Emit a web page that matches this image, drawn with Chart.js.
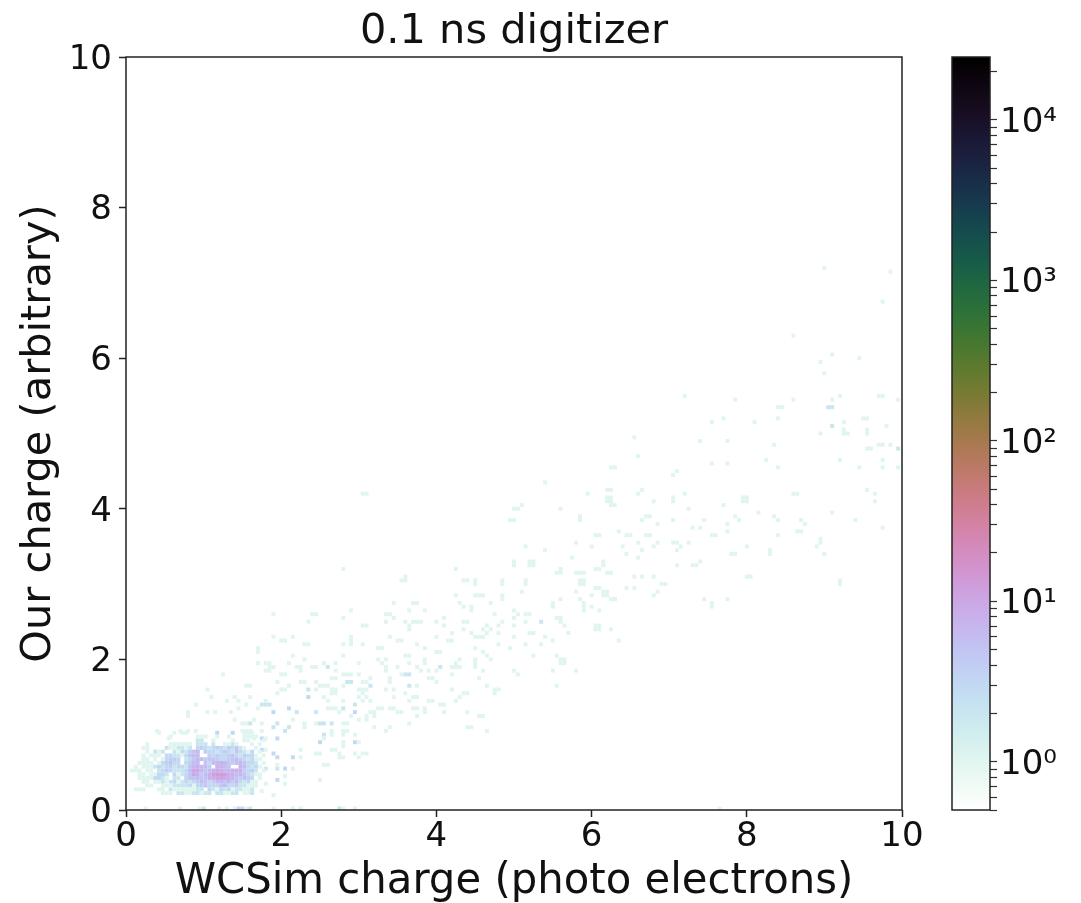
<!DOCTYPE html>
<html>
<head>
<meta charset="utf-8">
<title>0.1 ns digitizer</title>
<script src="https://cdn.jsdelivr.net/npm/chart.js@4/dist/chart.umd.js"></script>
<style>
  html, body { margin: 0; padding: 0; background: #fff; }
  canvas { position: absolute; top: 0; filter: blur(0.5px); }
  #plots { left: 0; }
  #barra { left: 940px; }
</style>
</head>
<body>
<canvas id="plots" width="1081" height="903"></canvas>
<canvas id="barra" width="141" height="903"></canvas>
<script>
// 2d histogram, bins are 0.05 wide
const binSize = 0.05
const axisTicks = [0, 2, 4, 6, 8, 10]

// dense blob near (1, 0.5): counts per bin, first row is y bin 20, last is y bin 4, x bins from 0
const coreTopRow = 20
const coreCounts = [
  [0,0,0,0,0,0,0,0,1,0,0,0,1,0,1,1,0,0,0,0,0,0,0,3,0,0,0,3,0,0,1,1,1,0,0,0],
  [0,0,0,0,0,0,0,0,0,0,0,1,0,0,0,0,0,0,1,1,1,0,0,1,0,0,1,0,0,0,1,1,1,1,0,0],
  [0,0,0,0,0,0,0,0,0,0,0,0,0,0,0,0,0,0,2,2,0,0,1,0,0,0,0,1,0,0,1,1,0,0,0,1],
  [0,0,0,0,0,1,0,0,0,0,0,1,1,1,1,1,1,0,2,2,2,0,2,0,0,1,1,2,1,0,0,0,1,0,1,0],
  [0,0,0,0,1,1,0,0,0,0,2,1,1,2,2,1,2,0,3,4,3,2,3,4,3,2,4,3,5,2,1,0,0,1,0,0],
  [0,0,0,0,0,1,0,2,1,2,0,0,2,1,3,2,4,5,7,0,4,3,3,2,3,4,3,2,5,3,2,1,3,0,1,0],
  [0,0,0,0,1,0,1,1,1,0,3,3,2,2,1,3,5,6,6,0,0,4,3,4,3,3,4,5,3,2,4,3,3,1,0,1],
  [0,0,0,0,1,1,0,1,0,1,3,4,4,3,0,2,3,5,7,6,4,5,5,4,3,3,4,5,6,4,3,2,3,1,1,0],
  [0,0,0,1,1,1,1,0,1,3,4,5,3,3,0,3,4,6,6,0,5,3,6,7,8,7,5,4,6,7,5,3,3,2,0,1],
  [0,0,1,0,1,1,1,2,3,2,3,4,2,3,3,2,5,7,8,6,6,4,0,7,7,6,5,0,0,7,6,3,2,3,1,0],
  [0,1,1,1,0,1,1,0,2,3,4,3,2,2,2,3,6,10,11,7,5,6,8,9,8,6,7,8,8,8,4,3,4,2,0,1],
  [0,0,0,1,1,0,1,1,3,3,2,0,3,1,2,3,5,10,8,4,6,8,12,14,13,12,8,8,6,7,5,3,2,1,1,0],
  [0,0,0,1,1,1,1,3,3,2,1,0,2,2,0,3,5,5,6,5,5,8,9,10,10,9,8,7,5,4,6,4,3,0,1,0],
  [0,0,0,0,1,1,0,1,1,2,1,2,3,1,2,3,2,3,4,6,5,3,4,6,6,5,7,4,6,3,2,3,1,1,0,0],
  [0,0,0,0,0,1,1,0,0,1,1,1,2,2,2,2,3,1,3,4,5,3,3,3,5,6,3,3,4,2,2,1,1,1,0,0],
  [0,0,1,1,1,0,0,0,1,1,0,2,1,1,1,1,1,1,2,2,0,3,2,1,3,2,3,1,2,2,1,1,2,0,0,0],
  [0,0,0,0,0,0,0,0,0,1,1,1,0,2,2,1,1,2,2,1,2,2,0,2,2,1,1,2,2,0,1,1,2,0,0,0]
]

// cells with one hit: [wcsim, our]
const singleCells = [
  [9,7.2],[9.85,7.15],[9.75,6.75],[8.6,6.3],[9.1,6.05],[8.95,5.95],[9.45,6],[9,5.8],[7.2,5.5],[7.85,5.45],
  [8.6,5.45],[9.1,5.45],[9.2,5.5],[9.7,5.5],[9.75,5.5],[9.95,5.45],[8.4,5.35],[8.45,5.35],[7.55,5.15],[7.7,5.2],
  [8.1,5.15],[8.4,5.2],[9.5,5.2],[9.55,5.2],[9.25,5.15],[9.25,5.05],[9.25,5],[9.3,5],[8.95,5],[9.8,5.1],
  [9.55,5.05],[9.55,5],[6.55,4.95],[7.4,4.9],[7.75,4.9],[8.35,4.85],[9.7,4.85],[9.75,4.85],[9.85,4.85],[9.55,4.8],
  [9.6,4.8],[6.6,4.7],[8.25,4.65],[9.2,4.65],[9.75,4.65],[6.25,4.55],[6.3,4.55],[7.55,4.6],[7.75,4.6],[8.4,4.55],
  [9.45,4.55],[9.75,4.55],[9.95,4.55],[7.1,4.5],[7.05,4.45],[6.2,4.25],[6.65,4.25],[6.6,4.2],[7.2,4.2],[8.6,4.2],
  [8.65,4.2],[9.55,4.25],[9.65,4.2],[6.2,4.15],[6.2,4.1],[7.05,4.15],[7.05,4.1],[7.95,4.15],[8,4.15],[7.95,4.1],
  [8,4.1],[6.8,4.1],[9.65,4.1],[6.25,4.05],[6.3,4.05],[7.7,4.05],[7.25,4],[8.15,3.95],[9.1,3.95],[6.7,3.9],
  [6.75,3.9],[7.85,3.9],[8.35,3.9],[6.65,3.85],[7.05,3.85],[7.45,3.85],[7.9,3.85],[8.4,3.85],[8.7,3.85],[9.4,3.85],
  [6.85,3.8],[7.75,3.8],[8.75,3.8],[7.3,3.75],[7.4,3.75],[9.75,3.75],[7.75,3.7],[8.65,3.7],[8.7,3.7],[6.35,3.7],
  [6.45,3.65],[6.5,3.65],[6.7,3.65],[6.75,3.65],[7.55,3.65],[7.6,3.65],[8.4,3.65],[8.95,3.6],[8.95,3.55],[6.6,3.55],
  [6.85,3.55],[7.05,3.55],[7.1,3.55],[7.25,3.55],[6.4,3.5],[6.8,3.5],[7.15,3.5],[8,3.5],[8.9,3.5],[6.65,3.45],
  [7.1,3.45],[8.3,3.45],[8.3,3.4],[6.45,3.4],[7.8,3.4],[7.85,3.4],[9,3.4],[6.6,3.35],[6.15,3.3],[6.15,3.25],
  [7.4,3.3],[7.3,3.25],[7.35,3.25],[7.1,3.25],[6.2,3.15],[6.55,3.1],[6.65,3.1],[6.8,3.1],[8,3.1],[8.05,3.1],
  [9.2,3.05],[9.2,3],[6.9,3],[6.95,3],[6.45,2.95],[6.55,2.95],[6.15,2.9],[6.2,2.9],[6.85,2.9],[6.8,2.85],
  [6.25,2.8],[6.3,2.8],[7.45,2.8],[7.75,2.8],[7.55,2.75],[7.55,2.7],[3.05,4.2],[3.1,4.2],[5.4,4.35],[5.95,4.2],
  [6.25,4.25],[6.25,4.15],[6.25,4.1],[5.1,4.05],[5,4],[5.05,4],[5.6,4],[5.85,3.9],[5.85,3.85],[4.95,3.85],
  [5,3.85],[6.05,3.65],[6.1,3.65],[5.8,3.55],[5.15,3.5],[6,3.5],[5.4,3.45],[5.75,3.35],[5,3.3],[5,3.25],
  [5.2,3.3],[5.25,3.3],[5.2,3.25],[5.25,3.25],[5.6,3.2],[5.6,3.15],[2.8,3.2],[4.25,3.2],[6.05,3.2],[6.1,3.2],
  [5.55,3.15],[5.8,3.15],[5.85,3.15],[5.9,3.15],[6.25,3.15],[3.6,3.1],[3.55,3.05],[3.6,3.05],[4.35,3.05],[4.4,3.05],
  [4.5,3.05],[4.5,3],[4.85,3.05],[4.85,3],[5.15,3.05],[5.15,3],[5.85,3.05],[5.9,3.05],[5.85,3],[5.9,3],
  [6.05,2.95],[6.1,2.95],[5.1,2.9],[5.8,2.9],[4.25,2.85],[4.5,2.85],[4.55,2.85],[4.6,2.85],[4.85,2.85],[4.85,2.8],
  [6,2.85],[6.15,2.85],[6.2,2.85],[5.6,2.8],[5.85,2.8],[4.7,2.75],[6.3,2.8],[5.9,2.75],[5.9,2.7],[5.9,2.65],
  [3.45,2.75],[3.7,2.75],[3.75,2.75],[4.3,2.75],[5.5,2.75],[5.5,2.7],[4.35,2.7],[4.45,2.7],[4.45,2.65],[6,2.7],
  [6.1,2.65],[2.9,2.65],[5,2.65],[3.65,2.65],[3.85,2.65],[3.35,2.6],[3.4,2.6],[4.75,2.6],[5.05,2.6],[5.15,2.6],
  [5.2,2.6],[5,2.55],[2.8,2.55],[3.45,2.55],[4.1,2.55],[5.55,2.55],[5.6,2.55],[3.35,2.5],[3.6,2.5],[3.7,2.5],
  [3.75,2.5],[3.8,2.5],[4,2.5],[4.35,2.5],[4.4,2.5],[4.85,2.5],[5.15,2.5],[5.6,2.5],[3.05,2.45],[3.1,2.45],
  [3.65,2.45],[3.65,2.4],[4.1,2.45],[4.65,2.45],[4.8,2.45],[5,2.45],[5.65,2.45],[6.05,2.45],[6.1,2.45],[6.05,2.4],
  [6.1,2.4],[4.35,2.4],[4.7,2.4],[6.25,2.4],[4.6,2.4],[4.2,2.35],[4.45,2.35],[4.65,2.35],[4.8,2.35],[5.2,2.35],
  [5.25,2.35],[5.7,2.35],[2.9,2.3],[2.9,2.25],[2.9,2.2],[3.4,2.3],[4,2.3],[4.5,2.3],[4.55,2.3],[4.6,2.3],
  [5,2.3],[5.4,2.3],[3.5,2.25],[3.55,2.25],[4.15,2.25],[4.2,2.25],[5.5,2.25],[6.35,2.25],[2.8,2.2],[3.05,2.2],
  [3.75,2.2],[4.8,2.2],[5.15,2.2],[5.35,2.2],[3.25,2.15],[3.3,2.15],[3.85,2.15],[4.5,2.15],[4.95,2.15],[4,2.1],
  [4.05,2.1],[4.6,2.1],[2.8,2.05],[3.6,2.05],[3.65,2.05],[4.65,2.05],[5.25,2.05],[5.55,2.05],[4.7,2],[3.25,2],
  [3.35,2],[3.65,1.95],[3.85,2],[3.85,1.95],[4.3,2],[4.5,2],[4.5,1.95],[4.5,1.9],[5.6,2],[5.65,2],
  [5.6,1.95],[5.65,1.95],[2.55,1.95],[2.7,1.95],[3,1.95],[3.3,1.95],[4.25,1.95],[3.35,1.9],[3.35,1.85],[3.5,1.9],
  [3.75,1.9],[4.2,1.9],[4.25,1.9],[4.3,1.9],[3.9,1.85],[3.8,1.85],[4,1.85],[2.7,1.85],[4.6,1.85],[5,1.85],
  [5.5,1.85],[5.8,1.85],[2.8,1.8],[2.85,1.8],[2.9,1.8],[3,1.8],[3.55,1.8],[4.2,1.8],[5.05,1.8],[2.65,1.75],
  [2.7,1.75],[3.15,1.75],[3.9,1.75],[3.95,1.75],[4.55,1.75],[3.4,1.75],[3.4,1.7],[3.05,1.7],[3.1,1.7],[4,1.7],
  [2.5,1.65],[2.55,1.65],[2.6,1.65],[2.8,1.65],[3.75,1.65],[4.65,1.65],[5.55,1.65],[2.65,1.6],[2.7,1.6],[2.65,1.55],
  [2.7,1.55],[3,1.6],[3.05,1.6],[3.1,1.6],[3.35,1.6],[3.45,1.6],[4.2,1.6],[4.75,1.6],[4.8,1.6],[3.05,1.55],
  [3.6,1.55],[4.35,1.55],[4.4,1.55],[4.75,1.55],[3.7,1.5],[3.75,1.5],[2.55,1.5],[3,1.5],[3.1,1.5],[3.45,1.5],
  [4.3,1.5],[2.6,1.45],[2.8,1.45],[3.05,1.45],[3.15,1.45],[3.65,1.45],[3.9,1.45],[3.95,1.45],[4.25,1.45],[4.05,1.4],
  [4.1,1.4],[2.6,1.35],[2.65,1.35],[2.7,1.35],[3.25,1.35],[3.3,1.35],[3.4,1.35],[3.45,1.35],[3.7,1.35],[3.75,1.35],
  [3.85,1.35],[3.85,1.3],[2.75,1.3],[3.15,1.3],[3.2,1.3],[3.5,1.3],[3.55,1.3],[4.1,1.3],[4.4,1.3],[2.9,1.25],
  [3.1,1.25],[3.2,1.25],[3.75,1.25],[4.55,1.25],[4.6,1.25],[2.8,1.15],[2.85,1.15],[3,1.2],[3.1,1.2],[3.2,1.1],
  [3.65,1.15],[3.4,1.1],[3.35,1.05],[4.4,1.1],[4.45,1.1],[4.65,1.05],[2.65,1.05],[2.65,1],[2.8,1.05],[2.8,1],
  [2.85,1.05],[2.95,1],[2.55,0.95],[2.8,0.9],[2.8,0.85],[3,0.9],[2.65,0.8],[2.7,0.8],[2.75,0.75],[2.95,0.75],
  [3.05,0.75],[3.1,0.75],[2.75,0.7],[2.8,0.7],[3,0.7],[2.55,0.6],[2.6,0.6],[2.5,0.4],[2.8,0.02],[2.95,0.02],
  [0.8,1.3],[0.8,1.25],[0.9,1.4],[1.05,1.6],[1.1,1.5],[1.25,1.8],[1.15,1.3],[1.05,1.3],[0.4,1.05],[0.55,0.95],
  [0.7,1.05],[0.8,1.05],[0.9,1.05],[1.3,1.45],[1.4,1.5],[1.45,1.45],[1.55,1.65],[1.6,1.65],[1.35,1.3],[1.45,1.35],
  [1.55,1.4],[1.6,1.5],[1.7,1.35],[1.7,1.95],[1.8,1.95],[1.8,1.85],[1.85,1.9],[1.85,1.85],[2,1.8],[2.05,1.8],
  [2.25,1.85],[2.25,1.7],[2.3,1.7],[1.95,1.7],[2,1.6],[2.05,1.6],[2.1,1.65],[1.95,1.55],[1.8,1.45],[2.45,1.7],
  [2.45,1.6],[1.65,1.2],[1.75,1.15],[1.75,1.05],[1.55,1.15],[1.4,1.2],[1.5,1.15],[1.5,1.05],[1.55,1.05],[1.6,1.05],
  [1.65,0.95],[1.8,0.95],[2.15,1.2],[2.3,1.15],[2.45,1.15],[2.3,1.1],[1.8,0.8],[2.25,0.7],[2.25,0.8],[2.45,0.75],
  [2.5,0.75],[1.95,0.6],[2.15,0.55],[2.05,0.45],[1.8,0.35],[2.05,0.35],[1.75,0.25],[1.9,0.2],[1.9,2.6],[2.4,2.6],
  [2.45,2.6],[2.35,2.5],[1.9,2.3],[2,2.25],[2.05,2.25],[2.15,2.3],[2.3,2.2],[2.35,2.2],[1.7,2.15],[1.7,2.1],
  [2.15,2.05],[2.3,2],[1.7,1.95],[1.85,1.95],[1.9,1.9],[2.1,1.95],[2.2,1.9],[2.25,1.9],[2.4,1.9],[2.45,1.9],
  [2.55,1.95],[0.25,0.02],[0.7,0.02],[0.95,0.02],[1.2,0.02],[1.3,0.02],[1.4,0.02],[1.55,0.02],[1.9,0.02],[2.15,0.02],
  [2.25,0.02],[7.65,0.02]
]

// cells with two hits
const doubleCells = [
  [9.05,5.35],[9.1,5.35],[9.1,5.1],[9.95,4.8],[5.35,2.5],[2.6,1.9],[4.05,1.9],[3.6,1.8],[3.65,1.8],[3.15,1.65],
  [3.65,1.65],[2.85,1.7],[2.9,1.7],[2.95,1.4],[2.8,1.35],[1.6,1.15],[1.75,1.4],[1.8,1.4],[1.85,1.4],[2.2,1.3],
  [2.45,1.3],[2.35,1.6],[1.9,1.1],[2.05,1.05],[2.1,1.1],[1.95,1.15],[2.5,1.15],[2.55,1.15],[2.65,1.15],[2.55,1],
  [1.95,0.55],[1.8,0.55],[1,0.02],[1.6,0.02],[2.75,0.02]
]

// cells with three or four hits
const tripleCells = [
  [1.9,1.3],[2.1,1.35],[2.35,1.5],[1.75,0.95],[1.95,0.95],[1.75,0.8],[1.9,0.75],[1.95,0.7],[2.15,0.7],[2.05,0.55],
  [1.95,0.4],[2.5,0.9],[2.95,1.3],[2.95,0.9],[1.45,0.02],[1.5,0.02]
]

// colorbar
const countMin = 0.5
const countMax = 24700
const barTicks = [0.5,0.6,0.7,0.8,0.9,1,2,3,4,5,6,7,8,9,10,20,30,40,50,60,70,80,90,100,200,300,400,500,600,700,800,900,1000,2000,3000,4000,5000,6000,7000,8000,9000,10000,20000]
const barTickValues = [1, 10, 100, 1000, 10000]
const barTickLabels = ['10⁰', '10¹', '10²', '10³', '10⁴']

const fonte = 'DejaVu Sans'

// cubehelix reversed, same colormap as the original plot
function cubehelix(t) {
  const x = 1 - t
  const a = x * (1 - x) / 2
  const phi = 2 * Math.PI * (0.5 / 3 - 1.5 * x)
  const c = Math.cos(phi)
  const s = Math.sin(phi)
  const r = x + a * (-0.14861 * c + 1.78277 * s)
  const g = x + a * (-0.29227 * c - 0.90649 * s)
  const b = x + a * (1.97294 * c)
  const v = n => Math.round(255 * Math.min(1, Math.max(0, n)))
  return `rgb(${v(r)},${v(g)},${v(b)})`
}

function corDaContagem(n) {
  const lo = Math.log10(countMin)
  return cubehelix((Math.log10(n) - lo) / (Math.log10(countMax) - lo))
}

const pontos = []
coreCounts.forEach((linha, r) => {
  linha.forEach((n, i) => {
    if (n > 0) pontos.push({ x: (i + 0.5) * binSize, y: (coreTopRow - r + 0.5) * binSize, n: n })
  })
})
singleCells.forEach(p => pontos.push({ x: p[0], y: p[1], n: 1 }))
doubleCells.forEach(p => pontos.push({ x: p[0], y: p[1], n: 2 }))
tripleCells.forEach(p => pontos.push({ x: p[0], y: p[1], n: 3 }))
pontos.sort((a, b) => b.n - a.n)

// box around the axes
const moldura = {
  id: 'moldura',
  afterDatasetsDraw(chart) {
    const a = chart.chartArea
    const ctx = chart.ctx
    ctx.save()
    ctx.strokeStyle = '#222'
    ctx.lineWidth = 1.5
    ctx.strokeRect(a.left, a.top, a.right - a.left, a.bottom - a.top)
    ctx.restore()
  }
}

new Chart(document.getElementById('plots'), {
  type: 'scatter',
  data: {
    datasets: [{
      data: pontos,
      pointStyle: 'rect',
      pointRadius: 2.8,
      borderWidth: 0,
      backgroundColor: ctx => ctx.raw ? corDaContagem(ctx.raw.n) : '#fff'
    }]
  },
  plugins: [moldura],
  options: {
    responsive: false,
    animation: false,
    events: [],
    layout: { padding: { right: 179 } },
    plugins: {
      legend: { display: false },
      tooltip: { enabled: false },
      title: {
        display: true,
        fullSize: false,
        text: '0.1 ns digitizer',
        color: '#111',
        font: { family: fonte, size: 41.5, weight: 'normal', lineHeight: 1 },
        padding: { top: 11, bottom: 4.5 }
      }
    },
    scales: {
      x: {
        type: 'linear',
        min: 0,
        max: 10,
        afterBuildTicks: s => { s.ticks = axisTicks.map(v => ({ value: v })) },
        afterFit: s => { s.height = 93 },
        grid: { drawOnChartArea: false, tickLength: 7, tickColor: '#222', tickWidth: 1.5 },
        border: { display: false },
        ticks: { color: '#111', maxRotation: 0, padding: 0, font: { family: fonte, size: 34 } },
        title: {
          display: true,
          text: 'WCSim charge (photo electrons)',
          color: '#111',
          font: { family: fonte, size: 41.8, weight: 'normal', lineHeight: 1 },
          padding: { top: 0, bottom: 0 }
        }
      },
      y: {
        type: 'linear',
        min: 0,
        max: 10,
        afterBuildTicks: s => { s.ticks = axisTicks.map(v => ({ value: v })) },
        afterFit: s => { s.width = 126 },
        grid: { drawOnChartArea: false, tickLength: 7, tickColor: '#222', tickWidth: 1.5 },
        border: { display: false },
        ticks: { color: '#111', padding: 7, labelOffset: 3, font: { family: fonte, size: 34 } },
        title: {
          display: true,
          text: 'Our charge (arbitrary)',
          color: '#111',
          font: { family: fonte, size: 41.5, weight: 'normal', lineHeight: 1 },
          padding: { top: 18, bottom: 0 }
        }
      }
    }
  }
})

new Chart(document.getElementById('barra'), {
  type: 'bar',
  data: {
    labels: ['contagem'],
    datasets: [{
      data: [[countMin, countMax]],
      barPercentage: 1,
      categoryPercentage: 1,
      borderWidth: 0,
      backgroundColor: ctx => {
        const a = ctx.chart.chartArea
        if (!a) return '#fff'
        const g = ctx.chart.ctx.createLinearGradient(0, a.bottom, 0, a.top)
        for (let i = 0; i <= 64; i++) g.addColorStop(i / 64, cubehelix(i / 64))
        return g
      }
    }]
  },
  plugins: [moldura],
  options: {
    responsive: false,
    animation: false,
    events: [],
    layout: { padding: { top: 57, bottom: 93, left: 12 } },
    plugins: { legend: { display: false }, tooltip: { enabled: false } },
    scales: {
      x: { display: false },
      y: {
        type: 'logarithmic',
        position: 'right',
        min: countMin,
        max: countMax,
        afterBuildTicks: s => { s.ticks = barTicks.map(v => ({ value: v })) },
        afterFit: s => { s.width = 91 },
        grid: { drawOnChartArea: false, tickLength: 7, tickColor: '#333', tickWidth: 1.2 },
        border: { display: false },
        ticks: {
          autoSkip: false,
          color: '#111',
          padding: 3,
          labelOffset: 3,
          font: { family: fonte, size: 34 },
          callback: v => {
            const k = barTickValues.indexOf(v)
            return k >= 0 ? barTickLabels[k] : ''
          }
        }
      }
    }
  }
})
</script>
</body>
</html>
